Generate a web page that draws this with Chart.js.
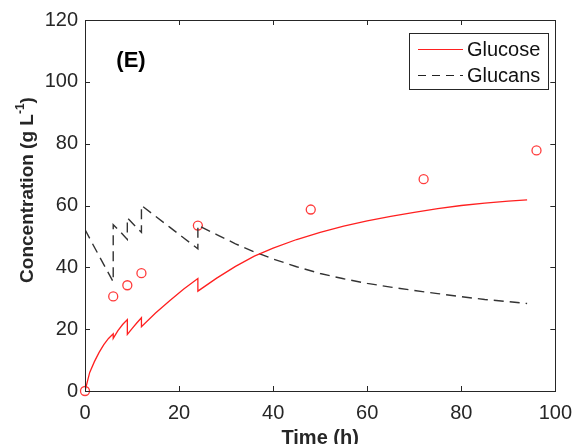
<!DOCTYPE html>
<html>
<head>
<meta charset="utf-8">
<script src="https://cdn.jsdelivr.net/npm/chart.js@4"></script>
<style>
  html, body { margin: 0; padding: 0; background: #fff; }
  #wrap { width: 582px; height: 444px; }
</style>
</head>
<body>
<div id="wrap"><canvas id="chart" width="582" height="444"></canvas></div>
<script>
// ─── Data ────────────────────────────────────────────────────────────────────
const glucoseTime  = [0, 1, 2, 3, 4, 5, 6, 6, 7, 8, 9, 9, 10, 11, 12, 12, 15, 18, 21, 24, 24, 28, 32, 36, 40, 45, 50, 55, 60, 65, 70, 75, 80, 85, 90, 94];
const glucoseModel = [0, 6, 9.5, 12.5, 15, 17, 18.5, 17, 19.5, 21.5, 23.1, 18.3, 20.2, 22, 23.7, 20.8, 25.2, 29.2, 33, 36.4, 32.3, 36.5, 40.3, 43.6, 46.2, 49, 51.3, 53.3, 55, 56.5, 57.8, 59, 60, 60.8, 61.4, 61.8];

const glucanTime  = [0, 2, 4, 6, 6, 7.5, 9, 9, 10.5, 12, 12, 15, 18, 21, 24, 24, 28, 32, 36, 40, 45, 50, 55, 60, 65, 70, 75, 80, 85, 90, 94];
const glucanModel = [52.2, 46.5, 40.9, 35.3, 53.8, 51.5, 49, 56, 53.6, 51.3, 60, 56.5, 53, 49.5, 46, 53.6, 50.6, 47.6, 45, 42.7, 40.2, 38, 36.3, 34.8, 33.6, 32.5, 31.5, 30.5, 29.6, 28.9, 28.3];

const expTime    = [0, 6, 9, 12, 24, 48, 72, 96];
const expGlucose = [0, 30.6, 34.2, 38.1, 53.5, 58.7, 68.5, 77.8];

const xTicks = [0, 20, 40, 60, 80, 100];
const yTicks = [0, 20, 40, 60, 80, 100, 120];

const AXIS_COLOR = '#262626';
const FONT = 'Arial, "Liberation Sans", Helvetica, sans-serif';

const toPoints = (xs, ys) => xs.map((x, i) => ({ x, y: ys[i] }));

// ─── Decorations: box, inward ticks, axis titles, panel label, legend ───────
const matlabAxes = {
  id: 'matlabAxes',
  afterDraw(chart) {
    const { ctx, chartArea: a, scales } = chart;
    ctx.save();
    ctx.strokeStyle = AXIS_COLOR;
    ctx.lineWidth = 1;

    // box
    ctx.strokeRect(Math.round(a.left) + 0.5, Math.round(a.top) + 0.5,
      Math.round(a.right - a.left), Math.round(a.bottom - a.top));

    // inward ticks on all four sides
    const tl = 5;
    ctx.beginPath();
    xTicks.forEach(v => {
      const px = Math.round(scales.x.getPixelForValue(v)) + 0.5;
      ctx.moveTo(px, a.bottom); ctx.lineTo(px, a.bottom - tl);
      ctx.moveTo(px, a.top);    ctx.lineTo(px, a.top + tl);
    });
    yTicks.forEach(v => {
      const py = Math.round(scales.y.getPixelForValue(v)) + 0.5;
      ctx.moveTo(a.left, py);  ctx.lineTo(a.left + tl, py);
      ctx.moveTo(a.right, py); ctx.lineTo(a.right - tl, py);
    });
    ctx.stroke();

    // x title
    ctx.fillStyle = AXIS_COLOR;
    ctx.font = `bold 20px ${FONT}`;
    ctx.textAlign = 'center';
    ctx.textBaseline = 'middle';
    ctx.fillText('Time (h)', (a.left + a.right) / 2, 438);

    // y title with superscript
    ctx.save();
    ctx.translate(28, 190);
    ctx.rotate(-Math.PI / 2);
    const main = 'Concentration (g L';
    const sup = '-1';
    const tail = ')';
    ctx.font = `bold 19px ${FONT}`;
    const wMain = ctx.measureText(main).width;
    const wTail = ctx.measureText(tail).width;
    ctx.font = `bold 12px ${FONT}`;
    const wSup = ctx.measureText(sup).width;
    let x0 = -(wMain + wSup + wTail) / 2;
    ctx.textAlign = 'left';
    ctx.font = `bold 19px ${FONT}`;
    ctx.fillText(main, x0, 0);
    ctx.font = `bold 12px ${FONT}`;
    ctx.fillText(sup, x0 + wMain, -7);
    ctx.font = `bold 19px ${FONT}`;
    ctx.fillText(tail, x0 + wMain + wSup, 0);
    ctx.restore();

    // panel label
    ctx.font = `bold 22px ${FONT}`;
    ctx.textAlign = 'center';
    ctx.fillStyle = '#000';
    ctx.fillText('(E)', 131, 61);

    // legend
    ctx.fillStyle = '#fff';
    ctx.fillRect(409, 33, 139, 56);
    ctx.strokeStyle = AXIS_COLOR;
    ctx.strokeRect(409.5, 33.5, 139, 56);

    ctx.lineWidth = 1.2;
    ctx.strokeStyle = '#ff2020';
    ctx.beginPath(); ctx.moveTo(418, 49.5); ctx.lineTo(463, 49.5); ctx.stroke();
    ctx.strokeStyle = '#222';
    ctx.setLineDash([8, 6]);
    ctx.beginPath(); ctx.moveTo(418, 75.5); ctx.lineTo(463, 75.5); ctx.stroke();
    ctx.setLineDash([]);

    ctx.fillStyle = '#111';
    ctx.font = `20px ${FONT}`;
    ctx.textAlign = 'left';
    ctx.fillText('Glucose', 467, 50);
    ctx.fillText('Glucans', 467, 76);
    ctx.restore();
  },
};

// ─── Chart ───────────────────────────────────────────────────────────────────
new Chart(document.getElementById('chart').getContext('2d'), {
  type: 'line',
  data: {
    datasets: [
      {
        label: 'Glucose',
        data: toPoints(glucoseTime, glucoseModel),
        borderColor: '#ff2020',
        borderWidth: 1.3,
        pointRadius: 0,
        tension: 0,
        fill: false,
      },
      {
        label: 'Glucans',
        data: toPoints(glucanTime, glucanModel),
        borderColor: '#333',
        borderWidth: 1.4,
        borderDash: [10, 6],
        pointRadius: 0,
        tension: 0,
        fill: false,
      },
      {
        label: 'Glucose (exp)',
        data: toPoints(expTime, expGlucose),
        showLine: false,
        pointStyle: 'circle',
        pointRadius: 4.5,
        pointBorderWidth: 1.3,
        pointBorderColor: '#ff3b3b',
        pointBackgroundColor: 'rgba(0,0,0,0)',
        clip: false,
      },
    ],
  },
  options: {
    responsive: false,
    animation: false,
    layout: { padding: { top: 20, right: 19, left: 0, bottom: 0 } },
    plugins: { legend: { display: false }, tooltip: { enabled: false } },
    scales: {
      x: {
        type: 'linear',
        min: 0,
        max: 100,
        afterBuildTicks: s => { s.ticks = xTicks.map(v => ({ value: v })); },
        afterFit: s => { s.height = 53; },
        grid: { display: false, drawTicks: false },
        border: { display: false },
        ticks: { color: AXIS_COLOR, font: { family: FONT, size: 20 }, padding: 10, maxRotation: 0 },
      },
      y: {
        type: 'linear',
        min: 0,
        max: 120,
        afterBuildTicks: s => { s.ticks = yTicks.map(v => ({ value: v })); },
        afterFit: s => { s.width = 85; },
        grid: { display: false, drawTicks: false },
        border: { display: false },
        ticks: { color: AXIS_COLOR, font: { family: FONT, size: 20 }, padding: 7 },
      },
    },
  },
  plugins: [matlabAxes],
});
</script>
</body>
</html>
